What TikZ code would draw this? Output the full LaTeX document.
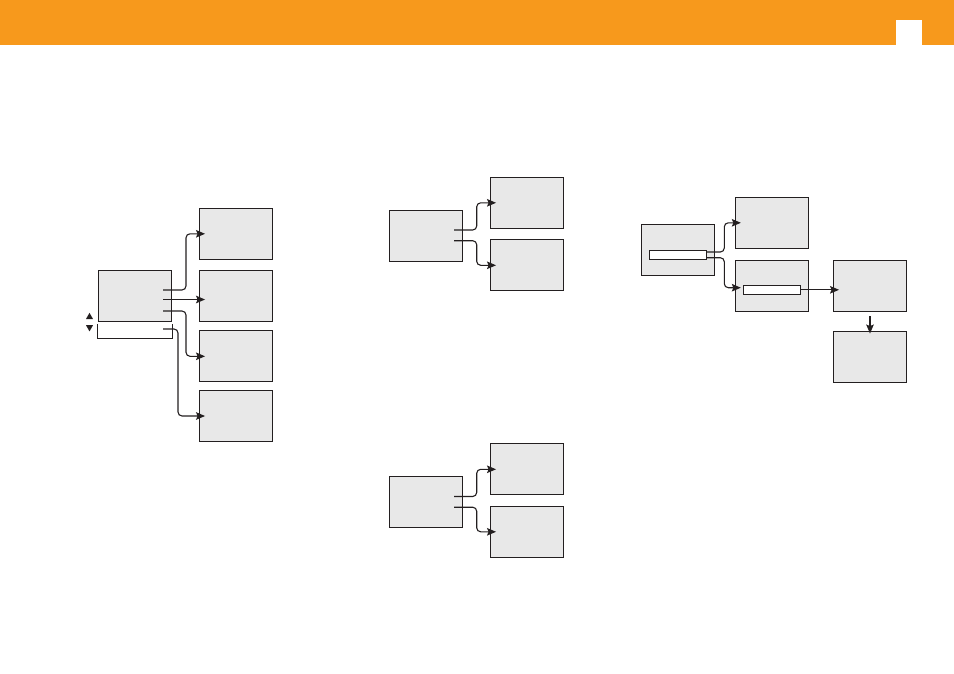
\documentclass[tikz,border=0pt]{standalone}
\usetikzlibrary{positioning, arrows.meta}
\usepackage{xcolor}
\definecolor{bannerorange}{HTML}{F7991C}
\definecolor{boxgray}{HTML}{E8E8E8}
\definecolor{inkdark}{HTML}{231F20}

\begin{document}
\begin{tikzpicture}[x=1pt, y=-1pt]
\tikzstyle{screen} = [rectangle, draw=inkdark, line width=0.9pt, fill=boxgray,
    inner sep=0pt, minimum width=73pt, minimum height=51pt]
\tikzstyle{bar} = [rectangle, draw=inkdark, line width=0.9pt, fill=white,
    inner sep=0pt, minimum width=57pt, minimum height=9pt]
\tikzstyle{line} = [draw=inkdark, line width=1.1pt,
    -{Stealth[length=9pt, width=7.5pt, inset=1.5pt]}, shorten >=-6pt]
\tikzstyle{roundbend} = [rounded corners=4pt]

\useasboundingbox (0,0) rectangle (954,673);
% banner
\fill[bannerorange] (0,0) rectangle (954,45);
\fill[white] (896,20) rectangle (922,45);

% left group
\node (m1) [screen] at (135,296) {};
\node (lo) [rectangle, inner sep=0pt, minimum width=74pt, minimum height=14pt] at (135,331) {};
\draw[inkdark, line width=0.9pt] (lo.north west) |- (lo.south east) -- (lo.north east);
\fill[inkdark] (86,319) -- (93,319) -- (89.5,312.8) -- cycle;
\fill[inkdark] (86,325.2) -- (93,325.2) -- (89.5,331.4) -- cycle;

\node (t1) [screen] at (236,233.8) {};
\node (t2) [screen] at (236,295.5) {};
\node (t3) [screen] at (236,356.3) {};
\node (t4) [screen] at (236,416) {};

\coordinate (a1) at (163,290);
\coordinate (a2) at (163,299.5);
\coordinate (a3) at (163,311);
\coordinate (a4) at (163,329);

\path[line] (a1) {[roundbend] -- ++(23,0) |- (t1.west)};
\path[line] (a2) -- (a2 -| t2.west);
\path[line] (a3) {[roundbend] -- ++(23,0) |- (t3.west)};
\path[line] (a4) {[roundbend] -- ++(15,0) |- (t4.west)};

% middle group, top
\node (m2) [screen] at (426.3,235.5) {};
\node (u1) [screen] at (527,202.8) {};
\node (u2) [screen] at (527,265.3) {};
\coordinate (b1) at (454,230);
\coordinate (b2) at (454,240.7);
\path[line] (b1) {[roundbend] -- ++(22.7,0) |- (u1.west)};
\path[line] (b2) {[roundbend] -- ++(22.7,0) |- (u2.west)};

% middle group, bottom
\node (m3) [screen] at (426.3,502) {};
\node (v1) [screen] at (527,469.3) {};
\node (v2) [screen] at (527,531.8) {};
\coordinate (c1) at (454,496.5);
\coordinate (c2) at (454,507.2);
\path[line] (c1) {[roundbend] -- ++(22.7,0) |- (v1.west)};
\path[line] (c2) {[roundbend] -- ++(22.7,0) |- (v2.west)};

% right group
\node (m4) [screen] at (678,250) {};
\node (f1) [bar] at (678,254.7) {};
\node (w1) [screen] at (771.8,222.8) {};
\node (w2) [screen] at (771.8,285.7) {};
\node (f2) [bar] at (772,289.8) {};
\node (r1) [screen] at (870,285.7) {};
\node (r2) [screen] at (870,356.8) {};
\coordinate (d1) at (707,252);
\coordinate (d2) at (707,257.7);
\path[line] (d1) {[roundbend] -- ++(17.3,0) |- (w1.west)};
\path[line] (d2) {[roundbend] -- ++(17.3,0) |- ([yshift=-2pt]w2.west)};
\path[line] (f2.east) -- (f2.east -| r1.west);
\path[line, shorten <=4.4pt, shorten >=-2.7pt] (r1.south) -- (r2.north);
\end{tikzpicture}
\end{document}
